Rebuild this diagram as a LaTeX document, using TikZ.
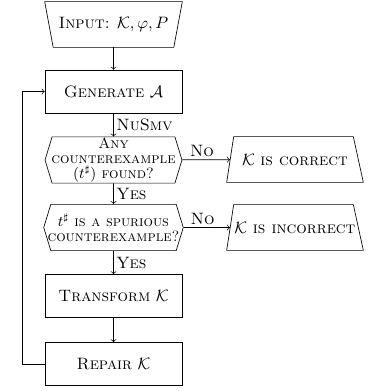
\documentclass[tikz,border=0pt]{standalone}
\usetikzlibrary{shapes.symbols}
\begin{document}
\begin{tikzpicture}[x=0.606pt,y=-0.606pt,
 box/.style={draw, rectangle, minimum width=83pt, minimum height=26pt, inner sep=1pt, align=center},
 iobox/.style={rectangle, minimum width=83pt, minimum height=27.3pt, inner sep=1pt, align=center},
 resbox/.style={iobox, minimum width=82.4pt},
 dec/.style={draw, signal, signal to=west and east, signal pointer angle=146, minimum width=83pt, minimum height=28pt, inner xsep=-2pt, inner ysep=0pt, align=center, font=\fontsize{9}{9.2}\selectfont},
 lbl/.style={inner sep=1.5pt},
 >=to]
\useasboundingbox (0,0) rectangle (373,391);
\node[iobox] (in) at (113.5,24.5) {\textsc{Input:} $\mathcal{K},\varphi,P$};
\node[box] (gen) at (113.5,91.5) {\textsc{Generate} $\mathcal{A}$};
\node[dec] (d1) at (113.5,160) {\textsc{Any}\\ \textsc{counterexample}\\ ($t^\sharp$) \textsc{found?}};
\node[dec] (d2) at (113.5,227.5) {$t^\sharp$ \textsc{is a spurious}\\ \textsc{counterexample?}};
\node[box] (tr) at (113.5,296) {\textsc{Transform} $\mathcal{K}$};
\node[box] (rep) at (113.5,364) {\textsc{Repair} $\mathcal{K}$};
\node[resbox] (ok) at (295,159.5) {$\mathcal{K}$ \textsc{is correct}};
\node[resbox] (bad) at (295,227.5) {$\mathcal{K}$ \textsc{is incorrect}};
% trapezium outlines
\draw (in.north west) -- (in.north east) -- ([xshift=-5.15pt]in.south east) -- ([xshift=5.15pt]in.south west) -- cycle;
\draw ([xshift=4.24pt]ok.north west) -- ([xshift=-6.06pt]ok.north east) -- (ok.south east) -- (ok.south west) -- cycle;
\draw ([xshift=4.24pt]bad.north west) -- ([xshift=-6.06pt]bad.north east) -- (bad.south east) -- (bad.south west) -- cycle;
% connectors
\draw[->] (in) -- (gen);
\draw[->] (gen) -- node[lbl,right]{\textsc{NuSmv}} (d1);
\draw[->] (d1) -- node[lbl,right]{\textsc{Yes}} (d2);
\draw[->] (d2) -- node[lbl,right]{\textsc{Yes}} (tr);
\draw[->] (tr) -- (rep);
\draw[->,shorten >=-2pt] (d1) -- node[lbl,above,xshift=-1.5pt]{\textsc{No}} (ok);
\draw[->,shorten >=-2pt] (d2) -- node[lbl,above,xshift=-1.5pt]{\textsc{No}} (bad);
\draw[->] (rep.west) -- ++(-22,0) |- (gen.west);
\end{tikzpicture}
\end{document}
